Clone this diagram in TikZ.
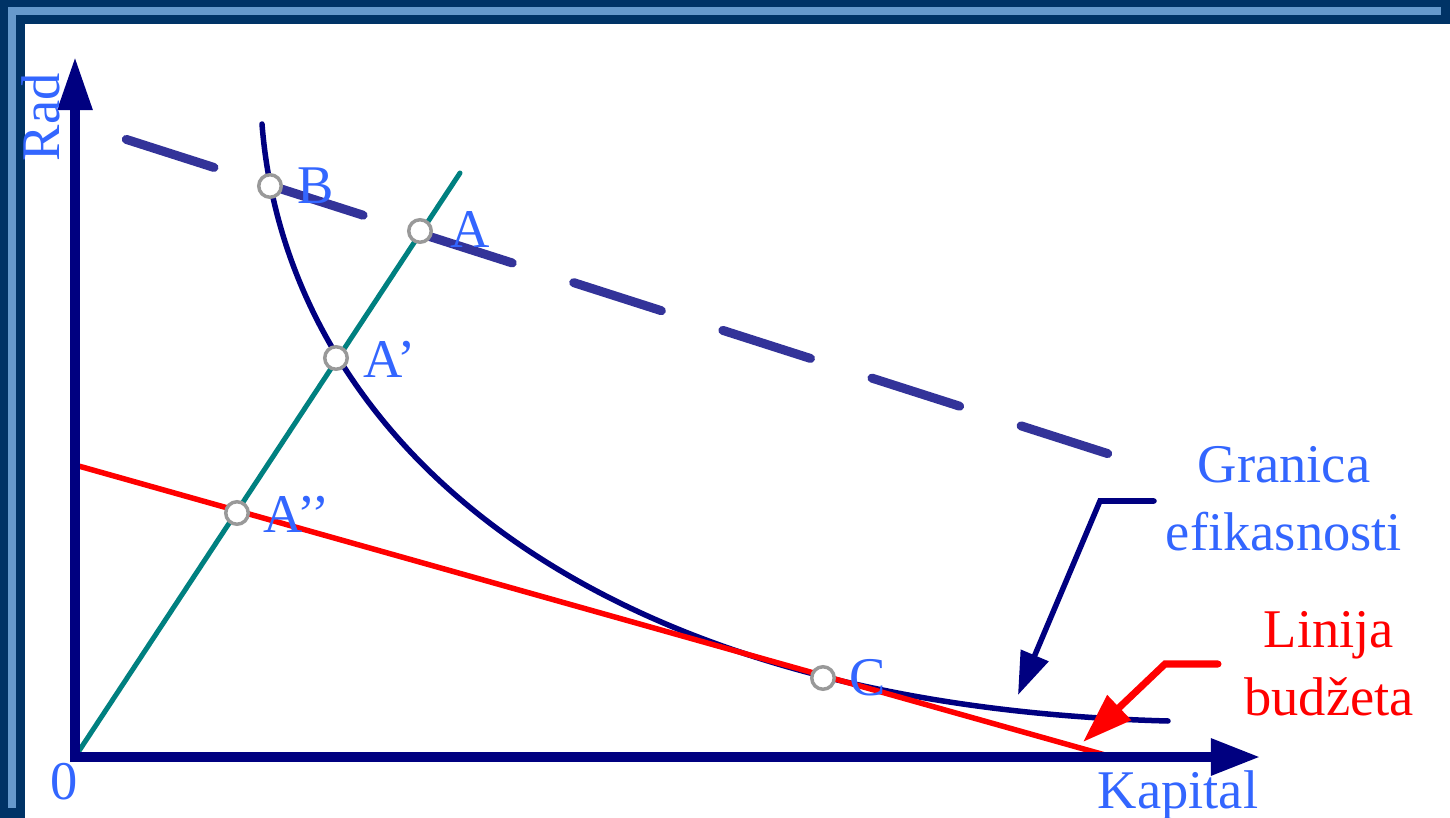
\documentclass[tikz,border=0pt]{standalone}
\usepackage{fontspec}
\setmainfont{Liberation Serif}
\usetikzlibrary{arrows.meta}
\definecolor{frameDark}{RGB}{0,51,102}
\definecolor{frameLight}{RGB}{102,153,204}
\definecolor{axisBlue}{RGB}{0,0,128}
\definecolor{textBlue}{RGB}{51,102,255}
\definecolor{dashBlue}{RGB}{51,51,153}
\definecolor{tealLine}{RGB}{0,128,128}

\begin{document}
\begin{tikzpicture}[x=0.01cm,y=-0.01cm,
  pt/.style={circle,draw=gray!80,fill=white,line width=0.035cm,minimum size=0.225cm,inner sep=0},
  lbl/.style={text=textBlue,inner sep=0,anchor=base west,font=\fontsize{15.5}{18}\selectfont}]
\useasboundingbox (0,0) rectangle (1450,818);
\clip (0,0) rectangle (1450,818);
% frame
\fill[frameDark] (0,0) rectangle (1450,818);
\fill[frameLight] (8,7) rectangle (1441,808);
\fill[frameDark] (16,15) rectangle (1450,818);
\fill[white] (25,24) rectangle (1450,818);
% points of the diagram
\coordinate (O) at (75,757); \coordinate (Ytip) at (75,57); \coordinate (Xtip) at (1260,757);
\coordinate (T) at (460,173);
\coordinate (R1) at (75,465); \coordinate (R2) at (1105,755);
\coordinate (D1) at (126.3,139.4); \coordinate (D2) at (1107.7,453.6);
\coordinate (F1) at (262,124); \coordinate (F1c) at (285,420); \coordinate (F2c) at (560,705); \coordinate (F2) at (1168,721);
% lines
\draw[dashBlue,line width=0.09cm,line cap=round,dash pattern=on 0.92cm off 0.645cm] (D1) -- (D2);
\draw[tealLine,line width=0.05cm,line cap=round] (O) -- (T);
\draw[axisBlue,line width=0.055cm,line cap=round] (F1) .. controls (F1c) and (F2c) .. (F2);
\draw[red,line width=0.055cm,line cap=round] (R1) -- (R2);
\draw[axisBlue,line width=0.09cm,{Triangle[length=0.53cm,width=0.33cm]}-{Triangle[length=0.49cm,width=0.35cm]}] (Ytip) -- (O) -- (Xtip);
% pointers
\coordinate (GrEnd) at (1154,501); \coordinate (GrBend) at (1100,501); \coordinate (GrTip) at (1018,695);
\coordinate (LiEnd) at (1218,664); \coordinate (LiBend) at (1165,664); \coordinate (LiTip) at (1083,742);
\draw[axisBlue,line width=0.055cm,line cap=round,-{Triangle[length=0.43cm,width=0.29cm]}] (GrEnd) -- (GrBend) -- (GrTip);
\draw[red,line width=0.07cm,line cap=round,-{Triangle[length=0.5cm,width=0.33cm]}] (LiEnd) -- (LiBend) -- (LiTip);
% circles
\node[pt] (ptB) at (270,186) {};
\node[pt] (ptA) at (420,231) {};
\node[pt] (ptA1) at (336,358) {};
\node[pt] (ptA2) at (237,513) {};
\node[pt] (ptC) at (823,678) {};
% labels
\node[lbl] (labB) at (297,203) {B};
\node[lbl] (labA) at (450,247) {A};
\node[lbl] (labA1) at (363,377) {A’};
\node[lbl] (labA2) at (263,532) {A’’};
\node[lbl] (labC) at (849,695) {C};
\node[lbl] (lab0) at (50,799) {0};
\node[lbl,rotate=90] (labRad) at (59,162) {Rad};
\node[lbl] (labKap) at (1097,808) {Kapital};
\node[lbl,anchor=base] (labGr1) at (1284,482) {Granica};
\node[lbl,anchor=base] (labGr2) at (1284,550) {efikasnosti};
\node[lbl,anchor=base,text=red] (labLi1) at (1329,647) {Linija};
\node[lbl,anchor=base,text=red] (labLi2) at (1329,715) {budžeta};
\end{tikzpicture}
\end{document}
